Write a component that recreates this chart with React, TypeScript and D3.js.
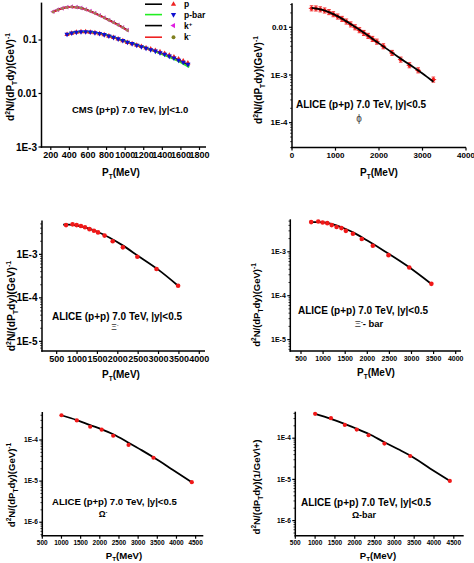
import React from 'react';
import * as d3 from 'd3';

// ---------- Panel 1: CMS (p+p) 7.0 TeV ----------
const kaonPt = [225, 275, 325, 375, 425, 475, 525, 575, 625, 675, 725, 775, 825, 875, 925, 975, 1025];
const kPlusYield = [0.338, 0.368, 0.392, 0.41, 0.419, 0.412, 0.396, 0.373, 0.347, 0.318, 0.289, 0.262, 0.236, 0.213, 0.192, 0.172, 0.153];
const kMinusYield = [0.334, 0.365, 0.389, 0.407, 0.416, 0.409, 0.393, 0.370, 0.344, 0.315, 0.286, 0.259, 0.234, 0.211, 0.190, 0.170, 0.151];
const kaonFitPt = [215, 300, 400, 500, 600, 700, 800, 900, 1030];
const kPlusFit = [0.33, 0.381, 0.416, 0.405, 0.36, 0.303, 0.249, 0.203, 0.151];
const kMinusFit = [0.328, 0.379, 0.414, 0.403, 0.358, 0.301, 0.247, 0.201, 0.149];

const protonPt = [375, 425, 475, 525, 575, 625, 675, 725, 775, 825, 875, 925, 975, 1025, 1075, 1125, 1175, 1225, 1275, 1325, 1375, 1425, 1475, 1525, 1575, 1625, 1675];
const pbarYield = [0.128, 0.135, 0.14, 0.1425, 0.1425, 0.141, 0.137, 0.132, 0.126, 0.119, 0.112, 0.105, 0.098, 0.0905, 0.0855, 0.08, 0.075, 0.07, 0.066, 0.062, 0.058, 0.054, 0.05, 0.046, 0.042, 0.0385, 0.035];
const pYield = [0.127, 0.134, 0.139, 0.142, 0.142, 0.14, 0.136, 0.131, 0.125, 0.118, 0.111, 0.104, 0.097, 0.09, 0.085, 0.08, 0.0755, 0.071, 0.0675, 0.0635, 0.06, 0.056, 0.052, 0.048, 0.044, 0.0405, 0.037];
const protonFitPt = [375, 500, 600, 800, 1000, 1200, 1400, 1600, 1690];
const pFit = [0.128, 0.142, 0.142, 0.123, 0.094, 0.0735, 0.055, 0.04, 0.033];
const pbarFit = [0.128, 0.142, 0.142, 0.123, 0.094, 0.0735, 0.054, 0.038, 0.031];

const legendLabels = ['p', 'p-bar', 'k', 'k'];
const legendSups = ['', '', '+', '-'];

// ---------- Panel 2: phi ----------
const phiPt = [450, 550, 650, 750, 850, 950, 1050, 1150, 1250, 1350, 1450, 1550, 1650, 1750, 1850, 1950, 2100, 2300, 2500, 2700, 2900, 3250];
const phiYield = [0.025, 0.0248, 0.0238, 0.0225, 0.0208, 0.0188, 0.0168, 0.015, 0.0132, 0.0115, 0.01, 0.0087, 0.0076, 0.0066, 0.0057, 0.005, 0.004, 0.0029, 0.0021, 0.0016, 0.00125, 0.0008];
const phiFitPt = [450, 700, 1000, 1500, 2000, 2500, 3000, 3250];
const phiFit = [0.0255, 0.0232, 0.018, 0.0095, 0.0046, 0.0022, 0.00107, 0.00072];

// ---------- Panel 3: Xi- ----------
const xiPt = [730, 890, 990, 1095, 1195, 1305, 1415, 1515, 1675, 1875, 2125, 2480, 2950, 3480];
const xiYield = [4.7e-3, 4.9e-3, 4.7e-3, 4.5e-3, 4.2e-3, 3.8e-3, 3.5e-3, 3.2e-3, 2.7e-3, 2.0e-3, 1.45e-3, 8.8e-4, 4.6e-4, 1.9e-4];
const xiFitPt = [660, 800, 1000, 1200, 1500, 1800, 2100, 2500, 3000, 3480];
const xiFit = [4.8e-3, 4.8e-3, 4.6e-3, 4.15e-3, 3.3e-3, 2.4e-3, 1.65e-3, 9.2e-4, 4.4e-4, 1.9e-4];

// ---------- Panel 4: Xi- bar ----------
const xiBarPt = [730, 890, 990, 1095, 1195, 1305, 1415, 1515, 1675, 1875, 2125, 2480, 2950, 3450];
const xiBarYield = [4.75e-3, 4.9e-3, 4.66e-3, 4.5e-3, 4.06e-3, 3.66e-3, 3.47e-3, 3.0e-3, 2.57e-3, 1.95e-3, 1.37e-3, 8.4e-4, 4.4e-4, 1.86e-4];
const xiBarFitPt = [700, 900, 1100, 1300, 1500, 1700, 2000, 2400, 2900, 3450];
const xiBarFit = [4.75e-3, 4.75e-3, 4.55e-3, 4.0e-3, 3.35e-3, 2.7e-3, 1.8e-3, 1.02e-3, 4.8e-4, 1.85e-4];

// ---------- Panel 5: Omega- ----------
const omegaPt = [1000, 1400, 1750, 2050, 2350, 2750, 3400, 4400];
const omegaYield = [4.0e-4, 3.0e-4, 2.1e-4, 1.78e-4, 1.27e-4, 7.6e-5, 3.7e-5, 9.4e-6];
const omegaFitPt = [1000, 1400, 1750, 2050, 2350, 2750, 3100, 3400, 3900, 4400];
const omegaFit = [4.0e-4, 3.05e-4, 2.3e-4, 1.82e-4, 1.38e-4, 8.6e-5, 5.6e-5, 3.8e-5, 1.9e-5, 9.4e-6];

// ---------- Panel 6: Omega-bar ----------
const omegaBarPt = [1000, 1400, 1750, 2050, 2350, 2750, 3400, 4400];
const omegaBarYield = [3.9e-4, 3.06e-4, 2.1e-4, 1.62e-4, 1.18e-4, 7.4e-5, 3.7e-5, 9.2e-6];
const omegaBarFitPt = [1000, 1400, 1750, 2050, 2350, 2750, 3100, 3400, 3900, 4400];
const omegaBarFit = [3.9e-4, 2.95e-4, 2.2e-4, 1.7e-4, 1.28e-4, 8.0e-5, 5.4e-5, 3.8e-5, 1.85e-5, 9.2e-6];

// ---------- Tick values / labels ----------
const p1XTicks = [200, 400, 600, 800, 1000, 1200, 1400, 1600, 1800];
const p1YTicks = [1e-3, 0.01, 0.1];
const p1YLabels = ['1E-3', '0.01', '0.1'];
const p2XTicks = [0, 1000, 2000, 3000, 4000];
const p2YTicks = [1e-4, 1e-3, 0.01];
const p2YLabels = ['1E-4', '1E-3', '0.01'];
const xiXTicks = [500, 1000, 1500, 2000, 2500, 3000, 3500, 4000];
const xiYTicks = [1e-5, 1e-4, 1e-3];
const xiYLabels = ['1E-5', '1E-4', '1E-3'];
const omXTicks = [500, 1000, 1500, 2000, 2500, 3000, 3500, 4000, 4500];
const omYTicks = [1e-6, 1e-5, 1e-4];
const omYLabels = ['1E-6', '1E-5', '1E-4'];

const FONT = "'Liberation Sans', Arial, Helvetica, sans-serif";

type Cfg = {
  xDomain: [number, number];
  xRange: [number, number];
  yDomain: [number, number];
  yRange: [number, number];
  xTicks: number[];
  yTicks: number[];
  yLabels: string[];
  xFont: number;
  yFont: number;
  minor: boolean;
};

function scales(cfg: Cfg) {
  const x = d3.scaleLinear().domain(cfg.xDomain).range(cfg.xRange);
  const y = d3.scaleLog().domain(cfg.yDomain).range(cfg.yRange);
  return { x, y };
}

function Axes({ cfg }: { cfg: Cfg }) {
  const { x, y } = scales(cfg);
  const ax = cfg.xRange[0];
  const ay = cfg.yRange[0];
  const minors: number[] = [];
  if (cfg.minor) {
    const d0 = Math.floor(Math.log10(cfg.yDomain[0]));
    const d1 = Math.ceil(Math.log10(cfg.yDomain[1]));
    for (let d = d0; d <= d1; d++) {
      for (let m = 2; m <= 9; m++) {
        const v = m * Math.pow(10, d);
        if (v > cfg.yDomain[0] && v < cfg.yDomain[1]) minors.push(v);
      }
    }
  }
  return (
    <g fontFamily={FONT} fontWeight="bold" fill="#000">
      <line x1={ax} x2={ax} y1={ay + 0.75} y2={cfg.yRange[1]} stroke="#000" strokeWidth={1.5} />
      <line x1={ax - 0.75} x2={cfg.xRange[1]} y1={ay} y2={ay} stroke="#000" strokeWidth={1.5} />
      {cfg.yTicks.map((t, i) => (
        <g key={'y' + i}>
          <line x1={ax - 3} x2={ax} y1={y(t)} y2={y(t)} stroke="#000" strokeWidth={1.2} />
          <text x={ax - 4.5} y={y(t)} dy="0.35em" textAnchor="end" fontSize={cfg.yFont}>
            {cfg.yLabels[i]}
          </text>
        </g>
      ))}
      {minors.map((v, i) => (
        <line key={'m' + i} x1={ax - 1.8} x2={ax} y1={y(v)} y2={y(v)} stroke="#000" strokeWidth={0.8} />
      ))}
      {cfg.xTicks.map((t, i) => (
        <g key={'x' + i}>
          <line x1={x(t)} x2={x(t)} y1={ay} y2={ay + 3} stroke="#000" strokeWidth={1.2} />
          <text x={x(t)} y={ay + 4 + cfg.xFont * 0.8} textAnchor="middle" fontSize={cfg.xFont}>
            {t}
          </text>
        </g>
      ))}
    </g>
  );
}

function FitLine({ cfg, xs, ys, color, width = 1.8 }: { cfg: Cfg; xs: number[]; ys: number[]; color: string; width?: number }) {
  const { x, y } = scales(cfg);
  const pts: [number, number][] = xs.map((v, i) => [x(v), y(ys[i])]);
  const path = d3.line().curve(d3.curveMonotoneX)(pts) || '';
  return <path d={path} fill="none" stroke={color} strokeWidth={width} />;
}

function Dots({ cfg, xs, ys, color = '#f01818', r = 2.3 }: { cfg: Cfg; xs: number[]; ys: number[]; color?: string; r?: number }) {
  const { x, y } = scales(cfg);
  return (
    <g>
      {xs.map((v, i) => (
        <circle key={i} cx={x(v)} cy={y(ys[i])} r={r} fill={color} />
      ))}
    </g>
  );
}

function Symbols({ cfg, xs, ys, color, type, rotate = 0, size = 12 }: { cfg: Cfg; xs: number[]; ys: number[]; color: string; type: d3.SymbolType; rotate?: number; size?: number }) {
  const { x, y } = scales(cfg);
  const d = d3.symbol().type(type).size(size)() || '';
  return (
    <g>
      {xs.map((v, i) => (
        <path key={i} d={d} fill={color} transform={`translate(${x(v)},${y(ys[i])}) rotate(${rotate})`} />
      ))}
    </g>
  );
}

function ErrDots({ cfg, xs, ys }: { cfg: Cfg; xs: number[]; ys: number[] }) {
  const { x, y } = scales(cfg);
  return (
    <g stroke="#f01818" strokeWidth={0.9}>
      {xs.map((v, i) => {
        const cx = x(v);
        const cy = y(ys[i]);
        const yt = y(ys[i] * 1.13);
        const yb = y(ys[i] / 1.13);
        return (
          <g key={i}>
            <line x1={cx} x2={cx} y1={yt} y2={yb} />
            <line x1={cx - 1.8} x2={cx + 1.8} y1={yt} y2={yt} />
            <line x1={cx - 1.8} x2={cx + 1.8} y1={yb} y2={yb} />
            <line x1={cx - 2.8} x2={cx + 2.8} y1={cy} y2={cy} />
            <circle cx={cx} cy={cy} r={1.9} fill="#f01818" stroke="none" />
          </g>
        );
      })}
    </g>
  );
}

function YTitle({ x, y, fs, unit }: { x: number; y: number; fs: number; unit: 'gev' | 'inv' }) {
  const s = fs * 0.68;
  return (
    <text transform={`translate(${x},${y}) rotate(-90)`} textAnchor="middle" fontSize={fs} fontFamily={FONT} fontWeight="bold">
      d
      <tspan dy={-fs * 0.38} fontSize={s}>2</tspan>
      <tspan dy={fs * 0.38}>N/(dP</tspan>
      <tspan dy={fs * 0.3} fontSize={s}>T</tspan>
      <tspan dy={-fs * 0.3}>dy)</tspan>
      {unit === 'gev' ? (
        <>
          <tspan>(GeV)</tspan>
          <tspan dy={-fs * 0.42} fontSize={s}>-1</tspan>
        </>
      ) : (
        <tspan>(1/GeV\+)</tspan>
      )}
    </text>
  );
}

function XTitle({ x, y, fs }: { x: number; y: number; fs: number }) {
  return (
    <text x={x} y={y} textAnchor="middle" fontSize={fs} fontFamily={FONT} fontWeight="bold">
      P
      <tspan dy={fs * 0.3} fontSize={fs * 0.65}>T</tspan>
      <tspan dy={-fs * 0.3}>(MeV)</tspan>
    </text>
  );
}

function Label({ x, y, fs, text, anchor = 'start' }: { x: number; y: number; fs: number; text: string; anchor?: string }) {
  return (
    <text x={x} y={y} fontSize={fs} fontFamily={FONT} fontWeight="bold" textAnchor={anchor as any}>
      {text}
    </text>
  );
}

const cfg1: Cfg = {
  xDomain: [100, 1870], xRange: [41.5, 206],
  yDomain: [1e-3, 0.5], yRange: [147, 2.6],
  xTicks: p1XTicks, yTicks: p1YTicks, yLabels: p1YLabels, xFont: 9, yFont: 10, minor: false,
};
const cfg2: Cfg = {
  xDomain: [0, 4000], xRange: [292, 466],
  yDomain: [3e-5, 0.032], yRange: [147.6, 3.2],
  xTicks: p2XTicks, yTicks: p2YTicks, yLabels: p2YLabels, xFont: 8, yFont: 8, minor: true,
};
const cfg3: Cfg = {
  xDomain: [140, 4140], xRange: [42, 205],
  yDomain: [6e-6, 6e-3], yRange: [351, 220.5],
  xTicks: xiXTicks, yTicks: xiYTicks, yLabels: xiYLabels, xFont: 9, yFont: 10, minor: true,
};
const cfg4: Cfg = {
  xDomain: [258, 4120], xRange: [290.3, 461],
  yDomain: [5.5e-6, 5.5e-3], yRange: [351, 219.3],
  xTicks: xiXTicks, yTicks: xiYTicks, yLabels: xiYLabels, xFont: 7, yFont: 7, minor: true,
};
const cfg5: Cfg = {
  xDomain: [500, 4700], xRange: [42.3, 203.3],
  yDomain: [4.7e-7, 4.8e-4], yRange: [535.7, 412],
  xTicks: omXTicks, yTicks: omYTicks, yLabels: omYLabels, xFont: 6.5, yFont: 6.5, minor: true,
};
const cfg6: Cfg = {
  xDomain: [500, 4750], xRange: [295.3, 463.7],
  yDomain: [4.3e-7, 4.4e-4], yRange: [535.7, 411.7],
  xTicks: omXTicks, yTicks: omYTicks, yLabels: omYLabels, xFont: 6.5, yFont: 6.5, minor: true,
};

function Legend() {
  const rows = [4.2, 14.6, 25.6, 37.2];
  const lineColors = ['#000', '#22ee22', '#000', '#ee2222'];
  const markColors = ['#ee2222', '#1010d0', '#e020e0', '#808020'];
  const types = [d3.symbolTriangle, d3.symbolTriangle, d3.symbolTriangle, d3.symbolCircle];
  const rots = [0, 180, -90, 0];
  return (
    <g fontFamily={FONT} fontWeight="bold" fontSize={8.5}>
      {legendLabels.map((lab, i) => {
        const d = d3.symbol().type(types[i]).size(12)() || '';
        return (
          <g key={i}>
            <line x1={145} x2={162} y1={rows[i]} y2={rows[i]} stroke={lineColors[i]} strokeWidth={1.6} />
            <path d={d} fill={markColors[i]} transform={`translate(173.5,${rows[i]}) rotate(${rots[i]})`} />
            <text x={184} y={rows[i]} dy="0.35em">
              {lab}
              {legendSups[i] && <tspan dy={-3} fontSize={6}>{legendSups[i]}</tspan>}
            </text>
          </g>
        );
      })}
    </g>
  );
}

export default function App() {
  return (
    <div style={{ position: 'absolute', left: 0, top: 0, background: '#fff' }}>
      <svg width={474} height={563} viewBox="0 0 474 563" style={{ display: 'block', background: '#fff' }}>
        {/* Panel 1 */}
        <Axes cfg={cfg1} />
        <FitLine cfg={cfg1} xs={kaonFitPt} ys={kPlusFit} color="#000" />
        <FitLine cfg={cfg1} xs={kaonFitPt} ys={kMinusFit} color="#e02020" />
        <FitLine cfg={cfg1} xs={protonFitPt} ys={pFit} color="#000" />
        <FitLine cfg={cfg1} xs={protonFitPt} ys={pbarFit} color="#22ee22" />
        <Symbols cfg={cfg1} xs={kaonPt} ys={kPlusYield} color="#d040c0" type={d3.symbolTriangle} rotate={-90} size={10} />
        <Symbols cfg={cfg1} xs={kaonPt} ys={kMinusYield} color="#a08050" type={d3.symbolCircle} size={6} />
        <Symbols cfg={cfg1} xs={protonPt} ys={pYield} color="#ee2222" type={d3.symbolTriangle} size={12} />
        <Symbols cfg={cfg1} xs={protonPt} ys={pbarYield} color="#1010d0" type={d3.symbolTriangle} rotate={180} size={12} />
        <Legend />
        <Label x={72} y={113} fs={9.5} text="CMS (p+p) 7.0 TeV, |y|<1.0" />
        <YTitle x={14} y={77} fs={10} unit="gev" />
        <XTitle x={121} y={176} fs={10} />

        {/* Panel 2 */}
        <Axes cfg={cfg2} />
        <ErrDots cfg={cfg2} xs={phiPt} ys={phiYield} />
        <FitLine cfg={cfg2} xs={phiFitPt} ys={phiFit} color="#000" />
        <Label x={296} y={108} fs={10} text="ALICE (p+p) 7.0 TeV, |y|<0.5" />
        <text x={359} y={122} textAnchor="middle" fontSize={10} fontFamily={FONT} fill="#444">ϕ</text>
        <YTitle x={262} y={80} fs={10} unit="gev" />
        <XTitle x={379} y={176} fs={10} />

        {/* Panel 3 */}
        <Axes cfg={cfg3} />
        <FitLine cfg={cfg3} xs={xiFitPt} ys={xiFit} color="#000" />
        <Dots cfg={cfg3} xs={xiPt} ys={xiYield} />
        <Label x={52} y={320} fs={10} text="ALICE (p+p) 7.0 TeV, |y|<0.5" />
        <text x={115} y={330} textAnchor="middle" fontSize={8.5} fontFamily={FONT} fill="#333">
          Ξ<tspan dy={-3} fontSize={5.5}>-</tspan>
        </text>
        <YTitle x={15} y={306} fs={10.3} unit="gev" />
        <XTitle x={121} y={378} fs={10} />

        {/* Panel 4 */}
        <Axes cfg={cfg4} />
        <FitLine cfg={cfg4} xs={xiBarFitPt} ys={xiBarFit} color="#000" />
        <Dots cfg={cfg4} xs={xiBarPt} ys={xiBarYield} />
        <Label x={298} y={314} fs={10} text="ALICE (p+p) 7.0 TeV, |y|<0.5" />
        <text x={369} y={327} textAnchor="middle" fontSize={9.5} fontFamily={FONT} fontWeight="bold">
          <tspan fontWeight="normal" fill="#333">Ξ</tspan>
          <tspan dy={-3} fontSize={5.5}>-</tspan>
          <tspan dy={3}>- bar</tspan>
        </text>
        <YTitle x={260} y={305} fs={9.5} unit="gev" />
        <XTitle x={376} y={376} fs={10} />

        {/* Panel 5 */}
        <Axes cfg={cfg5} />
        <FitLine cfg={cfg5} xs={omegaFitPt} ys={omegaFit} color="#000" />
        <Dots cfg={cfg5} xs={omegaPt} ys={omegaYield} r={2.1} />
        <Label x={52} y={505} fs={9.6} text="ALICE (p+p) 7.0 TeV, |y|<0.5" />
        <text x={103} y={517} textAnchor="middle" fontSize={8.5} fontFamily={FONT} fontWeight="bold">
          Ω<tspan dy={-3} fontSize={5.5}>-</tspan>
        </text>
        <YTitle x={15} y={485} fs={9.6} unit="gev" />
        <XTitle x={124} y={558.5} fs={9.6} />

        {/* Panel 6 */}
        <Axes cfg={cfg6} />
        <FitLine cfg={cfg6} xs={omegaBarFitPt} ys={omegaBarFit} color="#000" />
        <Dots cfg={cfg6} xs={omegaBarPt} ys={omegaBarYield} r={2.1} />
        <Label x={301} y={506} fs={10} text="ALICE (p+p) 7.0 TeV, |y|<0.5" />
        <Label x={364} y={518} fs={9} text="Ω-bar" anchor="middle" />
        <YTitle x={260} y={487} fs={9.6} unit="inv" />
        <XTitle x={378} y={558.5} fs={9.6} />
      </svg>
    </div>
  );
}
